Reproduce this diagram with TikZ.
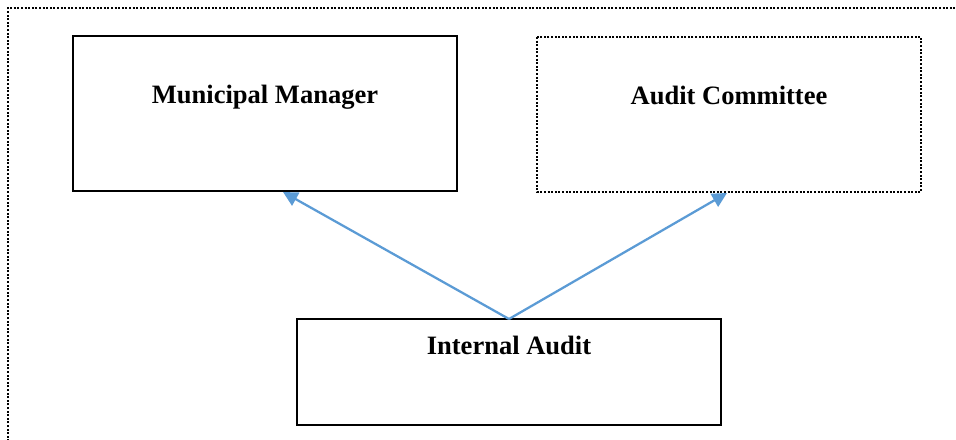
\documentclass[tikz,border=0pt]{standalone}
\usepackage{fontspec}
\setmainfont{Liberation Serif}
\usetikzlibrary{arrows.meta}
\definecolor{arrowblue}{HTML}{5B9BD5}
\begin{document}
\begin{tikzpicture}[x=0.75pt,y=-0.75pt,
  box/.style={draw=black,line width=1.5pt},
  dotbox/.style={draw=black,line width=1.6pt,dash pattern=on 1.5pt off 1.2pt},
  frame/.style={draw=black,line width=1.6pt,dash pattern=on 1.5pt off 1.2pt},
  lbl/.style={font=\fontsize{19.9}{24}\selectfont\bfseries,inner sep=0pt,anchor=base},
  conn/.style={draw=arrowblue,line width=1.7pt,-{Triangle[length=11pt,width=11pt]}}]
\useasboundingbox (0,0) rectangle (956,439);
\draw[frame] (8,445) -- (8,8) -- (960,8);
% boxes
\draw[box] (73,36) rectangle (457,191);
\node[coordinate] (mmS) at (283,192) {};
\node[lbl] (mm) at (265,103) {Municipal Manager};
\draw[dotbox] (537,37) rectangle (921,192);
\node[coordinate] (acS) at (727,193) {};
\node[lbl] (ac) at (729,104) {Audit Committee};
\draw[box] (297,319) rectangle (721,425);
\node[coordinate] (iaN) at (509,319) {};
\node[lbl] (ia) at (509,354) {Internal Audit};
\draw[conn] (iaN) -- (mmS);
\draw[conn] (iaN) -- (acS);
\end{tikzpicture}
\end{document}
